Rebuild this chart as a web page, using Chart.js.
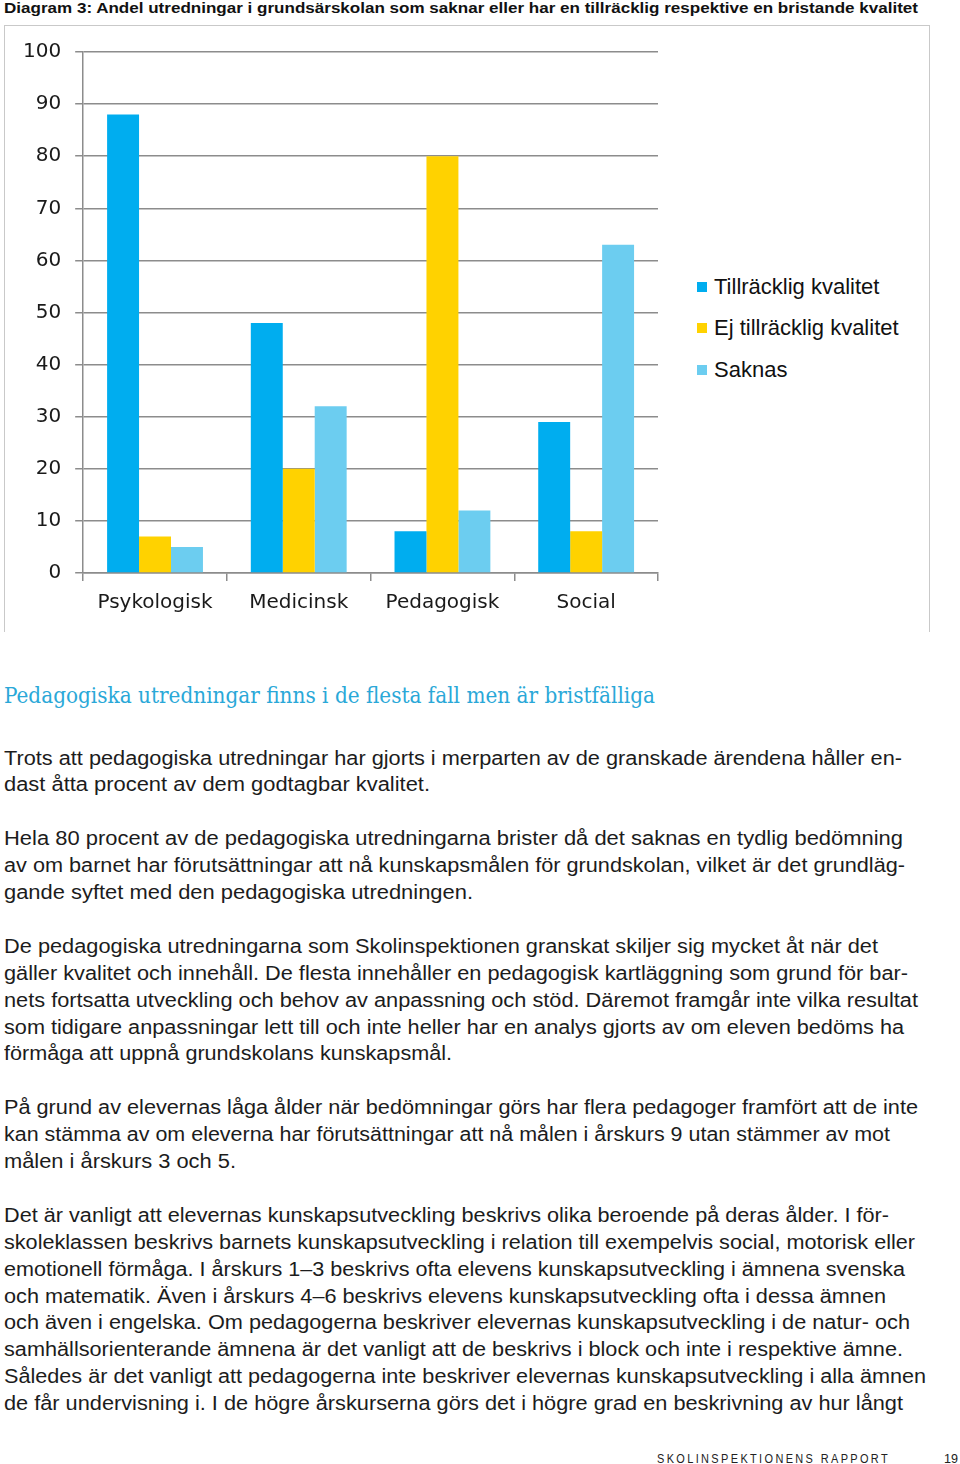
<!DOCTYPE html>
<html lang="sv">
<head>
<meta charset="utf-8">
<script src="https://cdn.jsdelivr.net/npm/chart.js@4"></script>
<style>
  html, body { margin: 0; padding: 0; background: #fff; }
  body { width: 960px; height: 1464px; position: relative; overflow: hidden;
         font-family: "Liberation Sans", Arial, sans-serif; color: #1c1c1c; }
  .abs { position: absolute; white-space: nowrap; }
  .fit { display: inline-block; transform-origin: 0 50%; }
  #title { left: 4px; top: 0; font-weight: bold; font-size: 15px; line-height: 16px; color: #111; }
  #frame { position: absolute; left: 4px; top: 25px; width: 924px; height: 606px;
           border: 1px solid #c9c9c9; border-bottom: none; }
  #chartWrap { position: absolute; left: 0; top: 26px; }
  #legend { position: absolute; left: 697px; top: 0; }
  .leg { position: absolute; left: 0; height: 26px; line-height: 26px; font-size: 22px; color: #111; white-space: nowrap; }
  .leg i { position: absolute; left: 0; top: 8px; width: 10px; height: 10px; }
  .leg span { position: absolute; left: 17px; top: 0; }
  #heading { left: 4px; font-family: "DejaVu Serif Condensed", "DejaVu Serif", serif; font-stretch: condensed;
             font-size: 22px; line-height: 30px; color: #2aa8d8; }
  .line { position: absolute; left: 4px; font-size: 20px; line-height: 27px; height: 27px; white-space: nowrap; }
  #footer { left: 657px; top: 1450px; font-size: 12px; line-height: 18px; letter-spacing: 2.6px; color: #222; }
  #pageno { left: 944px; top: 1450px; font-size: 12px; line-height: 18px; color: #222; }
</style>
</head>
<body>

<div class="abs" id="title"><span class="fit" data-w="914">Diagram 3: Andel utredningar i grundsärskolan som saknar eller har en tillräcklig respektive en bristande kvalitet</span></div>

<div id="frame"></div>
<div id="chartWrap"><canvas id="qualityChart" width="680" height="609"></canvas></div>
<div id="legend"></div>

<div class="abs" id="heading" style="top:681px"><span class="fit" data-w="651">Pedagogiska utredningar finns i de flesta fall men är bristfälliga</span></div>

<div id="bodyText"></div>

<div class="abs" id="footer"><span class="fit" data-w="233">SKOLINSPEKTIONENS RAPPORT</span></div>
<div class="abs" id="pageno"><span class="fit" data-w="14">19</span></div>

<script>
// ── Chart data ──
const categories = ['Psykologisk', 'Medicinsk', 'Pedagogisk', 'Social'];
const seriesNames = ['Tillräcklig kvalitet', 'Ej tillräcklig kvalitet', 'Saknas'];
const tillracklig = [88, 48, 8, 29];
const ejTillracklig = [7, 20, 80, 8];
const saknas = [5, 32, 12, 63];
const yTickValues = [0, 10, 20, 30, 40, 50, 60, 70, 80, 90, 100];
const seriesColors = ['#00adef', '#ffd200', '#6ccdf0'];

// ── Body text, one entry per printed line ('' = blank line) ──
const bodyLines = [
    ['Trots att pedagogiska utredningar har gjorts i merparten av de granskade ärendena håller en-', 898],
    ['dast åtta procent av dem godtagbar kvalitet.', 426],
    '',
    ['Hela 80 procent av de pedagogiska utredningarna brister då det saknas en tydlig bedömning', 899],
    ['av om barnet har förutsättningar att nå kunskapsmålen för grundskolan, vilket är det grundläg-', 901],
    ['gande syftet med den pedagogiska utredningen.', 469],
    '',
    ['De pedagogiska utredningarna som Skolinspektionen granskat skiljer sig mycket åt när det', 874],
    ['gäller kvalitet och innehåll. De flesta innehåller en pedagogisk kartläggning som grund för bar-', 904],
    ['nets fortsatta utveckling och behov av anpassning och stöd. Däremot framgår inte vilka resultat', 914],
    ['som tidigare anpassningar lett till och inte heller har en analys gjorts av om eleven bedöms ha', 900],
    ['förmåga att uppnå grundskolans kunskapsmål.', 448],
    '',
    ['På grund av elevernas låga ålder när bedömningar görs har flera pedagoger framfört att de inte', 914],
    ['kan stämma av om eleverna har förutsättningar att nå målen i årskurs 9 utan stämmer av mot', 886],
    ['målen i årskurs 3 och 5.', 232],
    '',
    ['Det är vanligt att elevernas kunskapsutveckling beskrivs olika beroende på deras ålder. I för-', 885],
    ['skoleklassen beskrivs barnets kunskapsutveckling i relation till exempelvis social, motorisk eller', 911],
    ['emotionell förmåga. I årskurs 1–3 beskrivs ofta elevens kunskapsutveckling i ämnena svenska', 901],
    ['och matematik. Även i årskurs 4–6 beskrivs elevens kunskapsutveckling ofta i dessa ämnen', 882],
    ['och även i engelska. Om pedagogerna beskriver elevernas kunskapsutveckling i de natur- och', 906],
    ['samhällsorienterande ämnena är det vanligt att de beskrivs i block och inte i respektive ämne.', 899],
    ['Således är det vanligt att pedagogerna inte beskriver elevernas kunskapsutveckling i alla ämnen', 922],
    ['de får undervisning i. I de högre årskurserna görs det i högre grad en beskrivning av hur långt', 899]
];

// ── Build text lines ──
const bodyEl = document.getElementById('bodyText');
bodyLines.forEach((ln, i) => {
    if (!ln) return;
    const d = document.createElement('div');
    d.className = 'line';
    d.style.top = (758 + 26.9 * i - 13.5) + 'px';
    const s = document.createElement('span');
    s.className = 'fit';
    s.dataset.w = ln[1];
    s.textContent = ln[0];
    d.appendChild(s);
    bodyEl.appendChild(d);
});

// ── Legend (from series names / colours) ──
const legendEl = document.getElementById('legend');
const legendCenters = [287, 328, 370];
seriesNames.forEach((name, i) => {
    const item = document.createElement('div');
    item.className = 'leg';
    item.style.top = (legendCenters[i] - 13) + 'px';
    item.innerHTML = '<i style="background:' + seriesColors[i] + '"></i><span>' + name + '</span>';
    legendEl.appendChild(item);
});

// ── Squeeze/stretch text spans to printed widths ──
document.querySelectorAll('.fit').forEach(el => {
    const w = el.getBoundingClientRect().width;
    const target = parseFloat(el.dataset.w);
    if (w > 0 && target) el.style.transform = 'scaleX(' + (target / w) + ')';
});

// ── Build Chart ──
const gridGrey = '#8c8c8c';
const tickFont = { family: '"DejaVu Sans", sans-serif', size: 20 };
const ctx = document.getElementById('qualityChart').getContext('2d');
const qualityChart = new Chart(ctx, {
    type: 'bar',
    data: {
        labels: categories,
        datasets: [
            { label: seriesNames[0], data: tillracklig, backgroundColor: seriesColors[0] },
            { label: seriesNames[1], data: ejTillracklig, backgroundColor: seriesColors[1] },
            { label: seriesNames[2], data: saknas, backgroundColor: seriesColors[2] }
        ]
    },
    options: {
        responsive: false,
        animation: false,
        datasets: {
            bar: { categoryPercentage: 0.667, barPercentage: 1.0, borderWidth: 0 }
        },
        plugins: {
            legend: { display: false },
            tooltip: { enabled: false }
        },
        scales: {
            x: {
                offset: true,
                grid: {
                    offset: true,
                    drawOnChartArea: false,
                    drawTicks: true,
                    tickLength: 8,
                    color: gridGrey,
                    lineWidth: 1.5
                },
                border: { display: true, color: gridGrey, width: 1.5 },
                ticks: { font: tickFont, color: '#1a1a1a', padding: 10, maxRotation: 0 }
            },
            y: {
                min: 0,
                max: 100,
                afterBuildTicks: scale => { scale.ticks = yTickValues.map(v => ({ value: v })); },
                grid: {
                    color: gridGrey,
                    lineWidth: 1.5,
                    drawTicks: true,
                    tickLength: 8
                },
                border: { display: true, color: gridGrey, width: 1.5 },
                ticks: { font: tickFont, color: '#1a1a1a', padding: 14 }
            }
        },
        layout: { padding: { left: 9, top: 24, right: 22, bottom: 10 } }
    }
});
</script>
</body>
</html>
